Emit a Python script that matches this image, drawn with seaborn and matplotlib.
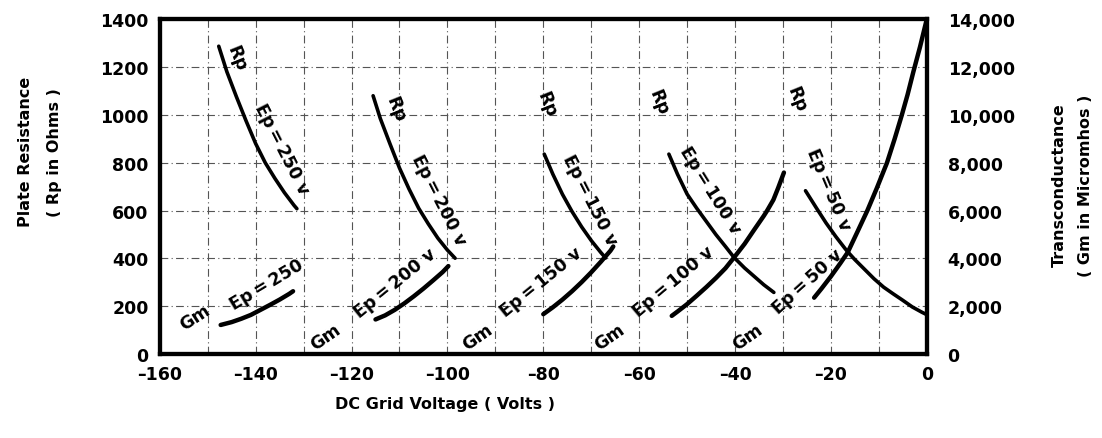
import numpy as np
import pandas as pd
import matplotlib
matplotlib.use("Agg")
import matplotlib.pyplot as plt
import seaborn as sns
from matplotlib.ticker import FuncFormatter, MultipleLocator

sns.set_theme(style="white")
plt.rcParams['font.family'] = ['DejaVu Sans']
plt.rcParams['font.weight'] = 'bold'
plt.rcParams['text.color'] = 'black'
plt.rcParams['axes.labelcolor'] = 'black'
plt.rcParams['xtick.color'] = 'black'
plt.rcParams['ytick.color'] = 'black'

# ---- data ----
plate_voltages = [250, 200, 150, 100, 50]

rp_250_x = [-147.7, -146, -144, -142, -140, -138, -136, -134, -132, -131.4]
rp_250_y = [1287, 1180, 1075, 975, 880, 800, 735, 675, 622, 608]
rp_200_x = [-115.5, -114, -112, -110, -108, -106, -104, -102, -100, -98.4]
rp_200_y = [1080, 985, 880, 778, 690, 610, 545, 485, 435, 401]
rp_150_x = [-79.8, -78, -76, -74, -72, -70, -68, -67]
rp_150_y = [836, 752, 668, 596, 532, 475, 425, 402]
rp_100_x = [-53.8, -52, -50, -48, -46, -44, -42, -40.2, -38, -36, -34, -31.9]
rp_100_y = [836, 752, 669, 610, 555, 500, 450, 404, 360, 325, 290, 258]
rp_50_x = [-25.3, -23, -21, -19, -17, -16.5, -15, -13, -11, -9, -7, -5, -3, -1, 0]
rp_50_y = [683, 610, 548, 492, 440, 428, 395, 355, 315, 280, 252, 225, 197, 175, 165]

gm_250_x = [-147.3, -145, -143, -141, -139, -137, -135, -133, -132.2]
gm_250_y = [1220, 1340, 1480, 1640, 1850, 2060, 2280, 2520, 2630]
gm_200_x = [-115, -113, -111, -109, -107, -105, -103, -101, -99.8]
gm_200_y = [1450, 1620, 1850, 2120, 2420, 2740, 3080, 3430, 3680]
gm_150_x = [-80, -78, -76, -74, -72, -70, -68, -66, -65.4]
gm_150_y = [1670, 1960, 2280, 2630, 3010, 3420, 3860, 4320, 4500]
gm_100_x = [-53.2, -52, -50, -48, -46, -44, -42, -40.2, -38, -36, -34, -33.3, -32, -31, -29.8]
gm_100_y = [1600, 1780, 2090, 2440, 2800, 3180, 3590, 4040, 4610, 5200, 5780, 6000, 6450, 6950, 7590]
gm_50_x = [-23.5, -22, -20, -18, -16.5, -14.5, -12.4, -10.4, -8.3, -6.7, -5.2, -4, -2.8, -1.4, 0]
gm_50_y = [2360, 2730, 3250, 3810, 4250, 5100, 6000, 6950, 8000, 9000, 10000, 10850, 11800, 12850, 14000]

x_ticks = [-160, -140, -120, -100, -80, -60, -40, -20, 0]
rp_ticks = [0, 200, 400, 600, 800, 1000, 1200, 1400]
gm_ticks = [0, 2000, 4000, 6000, 8000, 10000, 12000, 14000]

rp_x = [rp_250_x, rp_200_x, rp_150_x, rp_100_x, rp_50_x]
rp_y = [rp_250_y, rp_200_y, rp_150_y, rp_100_y, rp_50_y]
gm_x = [gm_250_x, gm_200_x, gm_150_x, gm_100_x, gm_50_x]
gm_y = [gm_250_y, gm_200_y, gm_150_y, gm_100_y, gm_50_y]

rp_df = pd.concat([pd.DataFrame({"grid": xs, "rp": ys, "ep": ep})
                   for xs, ys, ep in zip(rp_x, rp_y, plate_voltages)])
gm_df = pd.concat([pd.DataFrame({"grid": xs, "gm": ys, "ep": ep})
                   for xs, ys, ep in zip(gm_x, gm_y, plate_voltages)])

T = "\u2009"
# label annotations: (text, x, y, rotation)
rp_labels = [
    ("Rp", -143.9, 1240, -68), (f"Ep{T}={T}250 v", -134.5, 860, -63),
    ("Rp", -110.9, 1024, -68), (f"Ep{T}={T}200 v", -101.9, 648, -63),
    ("Rp", -79.4, 1045, -68), (f"Ep{T}={T}150 v", -70.4, 648, -63),
    ("Rp", -56.0, 1057, -68), (f"Ep{T}={T}100 v", -45.3, 690, -58),
    ("Rp", -27.1, 1066, -68), (f"Ep{T}={T}50 v", -20.5, 690, -67),
]
gm_labels = [
    ("Gm", -152.7, 155, 33), (f"Ep{T}={T}250", -137.7, 293, 31),
    ("Gm", -125.5, 75, 35), (f"Ep{T}={T}200 v", -110.9, 301, 39),
    ("Gm", -93.8, 75, 35), (f"Ep{T}={T}150 v", -80.4, 305, 39),
    ("Gm", -66.2, 75, 35), (f"Ep{T}={T}100 v", -52.8, 305, 40),
    ("Gm", -37.4, 75, 35), (f"Ep{T}={T}50 v", -24.8, 305, 42),
]

# ---- figure ----
fig = plt.figure(figsize=(11.02, 4.39), dpi=100)
ax = fig.add_axes([0.145, 0.191, 0.696, 0.763])
ax2 = ax.twinx()

sns.lineplot(data=rp_df, x="grid", y="rp", units="ep", estimator=None,
             sort=False, color="black", linewidth=2.6, ax=ax, legend=False)
sns.lineplot(data=gm_df, x="grid", y="gm", units="ep", estimator=None,
             sort=False, color="black", linewidth=3.2, ax=ax2, legend=False)
for ln in ax.lines + ax2.lines:
    ln.set_solid_capstyle("round")
    ln.set_solid_joinstyle("round")

ax.set_xlim(-160, 0)
ax.set_ylim(0, 1400)
ax2.set_ylim(0, 14000)

ax.set_xticks(x_ticks)
ax.set_xticklabels(["\u2013" + str(abs(v)) if v < 0 else str(v) for v in x_ticks])
ax.set_yticks(rp_ticks)
ax2.set_yticks(gm_ticks)
ax2.yaxis.set_major_formatter(FuncFormatter(lambda v, p: f"{int(v):,}"))

ax.xaxis.set_minor_locator(MultipleLocator(10))
gstyle = dict(linestyle=(0, (7, 3, 1, 3)), color="#555555", linewidth=0.8)
ax.grid(True, which="both", axis="x", **gstyle)
ax.grid(True, which="major", axis="y", **gstyle)
ax.set_axisbelow(True)
ax2.grid(False)

ax.tick_params(length=0, labelsize=12.5, pad=8)
ax2.tick_params(length=0, labelsize=12.5, pad=15)
for a in (ax, ax2):
    for s in a.spines.values():
        s.set_linewidth(3)
        s.set_color("black")
for lab in ax.get_xticklabels() + ax.get_yticklabels() + ax2.get_yticklabels():
    lab.set_fontweight("bold")

ax.set_xlabel("DC Grid Voltage ( Volts )", fontsize=11.5, fontweight="bold")
ax.xaxis.set_label_coords(0.372, -0.125)
ax.set_ylabel("Plate Resistance\n( Rp in Ohms )", fontsize=11.5, fontweight="bold",
              linespacing=2.1)
ax.yaxis.set_label_coords(-0.128, 0.606)
ax2.set_ylabel("Transconductance\n( Gm in Micromhos )", fontsize=11.5, fontweight="bold",
               rotation=90, linespacing=1.95)
ax2.yaxis.set_label_coords(1.163, 0.507)

for txt, x, y, rot in rp_labels + gm_labels:
    ax.text(x, y, txt, rotation=rot, ha="center", va="center",
            fontsize=12.5, fontweight="bold", color="black")

fig.savefig("out.png", dpi=100)
